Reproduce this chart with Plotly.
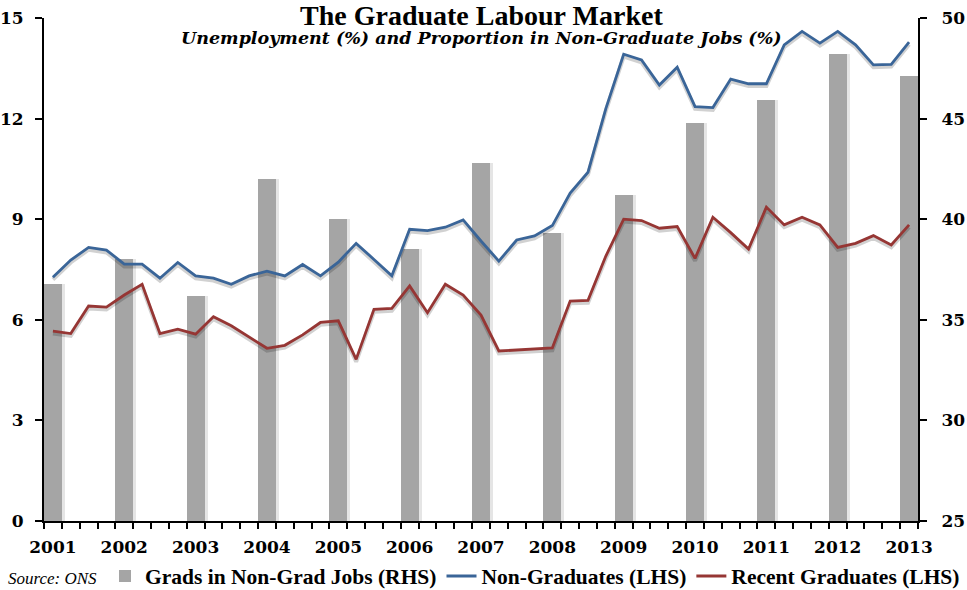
import plotly.graph_objects as go

quarters = [f"{y}Q{q}" for y in range(2001, 2014) for q in range(1, 5)][:49]
years = [str(y) for y in range(2001, 2014)]

non_graduates = [7.27, 7.78, 8.16, 8.08, 7.66, 7.66, 7.24, 7.71, 7.31, 7.24, 7.06, 7.31,
                 7.45, 7.31, 7.65, 7.31, 7.72, 8.28, 7.80, 7.31, 8.70, 8.66, 8.76, 8.98,
                 8.35, 7.75, 8.38, 8.50, 8.81, 9.78, 10.40, 12.3, 13.92, 13.75, 13.0, 13.53,
                 12.36, 12.33, 13.18, 13.04, 13.04, 14.2, 14.6, 14.25, 14.6, 14.2, 13.6, 13.62,
                 14.28]
recent_graduates = [5.66, 5.59, 6.41, 6.38, 6.74, 7.06, 5.59, 5.72, 5.57, 6.09, 5.82, 5.49,
                    5.15, 5.24, 5.55, 5.92, 5.97, 4.82, 6.31, 6.34, 7.01, 6.21, 7.06, 6.74,
                    6.14, 5.07, 5.10, 5.13, 5.16, 6.56, 6.58, 7.9, 9.0, 8.96, 8.73, 8.78,
                    7.83, 9.06, 8.6, 8.11, 9.36, 8.83, 9.06, 8.83, 8.16, 8.28, 8.51, 8.23,
                    8.83]
grads_non_grad_jobs = [36.8, 38.0, 36.2, 42.0, 40.0, 38.5, 42.8, 39.3, 41.2, 44.8, 45.9, 48.2, 47.1]

left_ticks = [0, 3, 6, 9, 12, 15]
right_ticks = [25, 30, 35, 40, 45, 50]
major_grid = [3, 6, 9, 12]
minor_grid = [1, 2, 4, 5, 7, 8, 10, 11, 13, 14]

xi = list(range(len(quarters)))
bar_x = [quarters.index(f"{y}Q1") for y in years]

BLUE = "#3A6598"
RED = "#963634"
GREY = "#A5A5A5"
TICKFONT = dict(family="DejaVu Serif", size=17, color="black", weight="bold")

# plot area: top 18px, bottom 521px (503px tall), left 44px, width 874px
def py(pix):
    return (521 - pix) / 503

def px(pix):
    return (pix - 44) / 874

fig = go.Figure()
# soft shadow to the right of each bar
fig.add_trace(go.Bar(x=bar_x, y=grads_non_grad_jobs, showlegend=False, hoverinfo="skip",
                     marker=dict(color="rgba(0,0,0,0.10)", line=dict(width=0)), width=1,
                     offset=-0.33, xaxis="x", yaxis="y"))
fig.add_trace(go.Bar(x=bar_x, y=grads_non_grad_jobs, name="Grads in Non-Grad Jobs (RHS)",
                     marker=dict(color=GREY, line=dict(width=0)), width=1,
                     xaxis="x", yaxis="y"))
for vals in (non_graduates, recent_graduates):
    fig.add_trace(go.Scatter(x=xi, y=vals, mode="lines", showlegend=False, hoverinfo="skip",
                             line=dict(color="rgba(0,0,0,0.18)", width=4),
                             xaxis="x", yaxis="y2"))
fig.add_trace(go.Scatter(x=xi, y=non_graduates, mode="lines", name="Non-Graduates (LHS)",
                         line=dict(color=BLUE, width=2.8), xaxis="x", yaxis="y3"))
fig.add_trace(go.Scatter(x=xi, y=recent_graduates, mode="lines", name="Recent Graduates (LHS)",
                         line=dict(color=RED, width=2.8), xaxis="x", yaxis="y3"))

fig.update_layout(
    width=967, height=590,
    margin=dict(l=44, r=49, t=18, b=69, autoexpand=False),
    paper_bgcolor="white", plot_bgcolor="white",
    barmode="overlay", bargap=0,
    showlegend=True,
    xaxis=dict(range=[-0.5, len(quarters) - 0.5], tickmode="array", tickvals=bar_x, ticktext=years,
               ticks="", showgrid=False, zeroline=False, showline=True, linecolor="black",
               linewidth=2, tickfont=TICKFONT, ticklabelstandoff=10,
               minor=dict(tickmode="linear", tick0=-0.5, dtick=1, ticks="outside", ticklen=6,
                          tickwidth=2, tickcolor="black", showgrid=False)),
    yaxis=dict(range=[25, 50], side="right", tickmode="array", tickvals=right_ticks,
               ticks="outside", ticklen=7, tickwidth=2, tickcolor="black",
               showline=True, linecolor="black", linewidth=2, zeroline=False,
               showgrid=False, tickfont=TICKFONT, ticklabelstandoff=11),
    yaxis2=dict(range=[0.07, 15.07], overlaying="y", visible=False),
    yaxis3=dict(range=[0, 15], overlaying="y", side="left", tickmode="array", tickvals=left_ticks,
                ticks="outside", ticklen=7, tickwidth=2, tickcolor="black",
                showline=True, linecolor="black", linewidth=2, zeroline=False, showgrid=False,
                tickfont=TICKFONT, ticklabelstandoff=8),
    yaxis4=dict(range=[0, 15], overlaying="y", side="left", tickmode="array", tickvals=major_grid,
                showticklabels=False, ticks="", showline=False, zeroline=False,
                showgrid=True, gridcolor="black", gridwidth=1,
                minor=dict(tickmode="array", tickvals=minor_grid, showgrid=True,
                           gridcolor="#B4B4B4", gridwidth=1, ticks="")),
    legend=dict(orientation="h", xref="container", x=1 - 2 / 967, xanchor="right",
                yref="container", y=1 - 576 / 590, yanchor="middle",
                font=dict(family="Liberation Serif", size=21.5, color="black", weight="bold"),
                bgcolor="rgba(0,0,0,0)", itemwidth=30, tracegroupgap=0),
    annotations=[
        dict(text="<b>The Graduate Labour Market</b>", xref="paper", yref="paper", x=0.5,
             y=py(16), xanchor="center", yanchor="middle", showarrow=False,
             font=dict(family="Liberation Serif", size=28, color="black")),
        dict(text="<b><i>Unemployment (%) and Proportion in Non-Graduate Jobs (%)</i></b>",
             xref="paper", yref="paper", x=0.5, y=py(38), xanchor="center",
             yanchor="middle", showarrow=False,
             font=dict(family="DejaVu Serif", size=17.5, color="black")),
        dict(text="<i>Source: ONS</i>", xref="paper", yref="paper", x=px(6),
             y=py(578), xanchor="left", yanchor="middle", showarrow=False,
             font=dict(family="Liberation Serif", size=17, color="black")),
    ],
)

fig.write_html("out.html", config={"displayModeBar": False},
               post_script="document.body.style.margin='0';")
